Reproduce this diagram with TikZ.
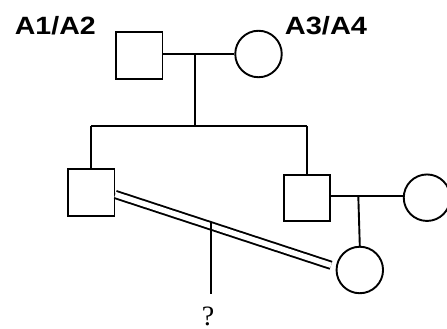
\documentclass[tikz,border=0pt]{standalone}
\usepackage{fontspec}
\usepackage{graphicx}
\newfontfamily\labelfont{Liberation Sans}
\newfontfamily\qfont{Liberation Serif}
\usetikzlibrary{calc}
\tikzset{
  male/.style={draw, rectangle, minimum size=46.5pt, inner sep=0pt},
  female/.style={draw, circle, minimum size=46.5pt, inner sep=0pt},
  genlabel/.style={inner sep=0pt, anchor=base, font=\labelfont\bfseries\fontsize{25}{30}\selectfont},
}
\begin{document}
\begin{tikzpicture}[x=1pt, y=1pt, line width=1.9pt]
\useasboundingbox (0,0) rectangle (447,329);

% founding couple
\node[male]   (f1) at (139.2, 273.5) {};
\node[female] (m1) at (258.5, 275) {};
\node[genlabel] (l1) at (55.3, 294) {\scalebox{1.14}[1]{A1/A2}};
\node[genlabel] (l2) at (326, 294) {\scalebox{1.16}[1]{A3/A4}};

% children and spouse
\node[male]   (s2) at (91.2, 136.5) {};
\node[male]   (s3) at (306.8, 130.8) {};
\node[female] (w3) at (427, 131.3) {};
\node[female] (d)  at (359.8, 59) {};

% junction points
\coordinate (j1) at (195, 275.3);
\coordinate (sib) at (195, 203);
\coordinate (j2) at (358.3, 133);

% first marriage and sibship
\draw (f1.east |- j1) -- (m1.west |- j1);
\draw (j1) -- (sib);
\draw (s2.north |- sib) -- (s3.north |- sib);
\draw (s2.north |- sib) -- (s2.north);
\draw (s3.north |- sib) -- (s3.north);

% second marriage and daughter
\draw (s3.east |- j2) -- (w3.west |- j2);
\draw (j2) -- (d.north);

% consanguineous union
\coordinate (ca) at (115.3, 134.5);
\coordinate (cb) at (331, 63.7);
\draw[double, double distance=5.4pt] (ca) -- (cb);
\coordinate (ctop) at ($(ca)!0.4426!(cb) + (0, 4)$);
\coordinate (cbot) at (ctop |- 0, 34.7);
\draw (ctop) -- (cbot);
\node[inner sep=0pt, anchor=base, font=\qfont\fontsize{28}{32}\selectfont] (q) at (208, 3.5) {?};
\end{tikzpicture}
\end{document}
